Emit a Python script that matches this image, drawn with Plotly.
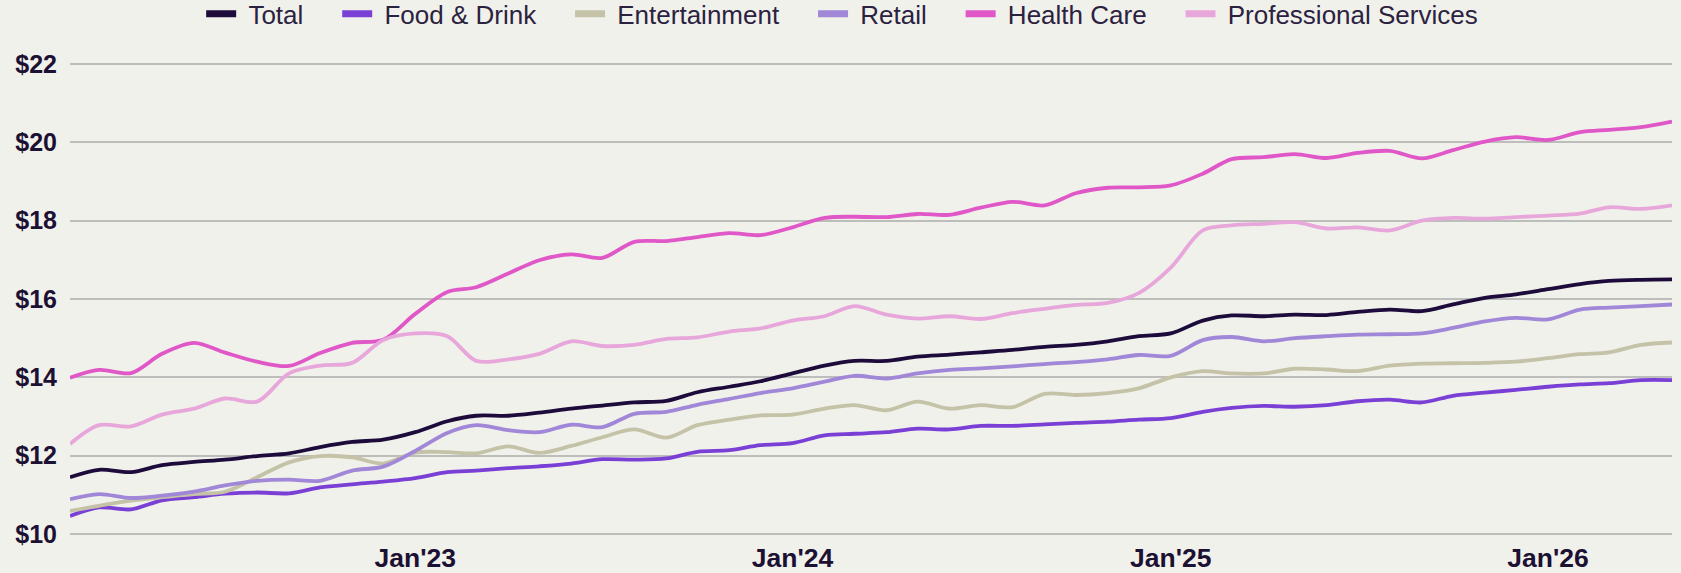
import pandas as pd
import plotly.graph_objects as go

dates = pd.date_range("2022-02-01", periods=52, freq="MS")

total = [11.45, 11.64, 11.58, 11.76, 11.84, 11.90, 11.99, 12.06, 12.22, 12.35,
         12.41, 12.60, 12.88, 13.02, 13.02, 13.10, 13.20, 13.28, 13.36, 13.40,
         13.62, 13.76, 13.90, 14.10, 14.30, 14.42, 14.42, 14.53, 14.58, 14.64,
         14.70, 14.78, 14.83, 14.92, 15.05, 15.12, 15.45, 15.58, 15.56, 15.60,
         15.59, 15.67, 15.73, 15.69, 15.86, 16.03, 16.12, 16.25, 16.38, 16.46,
         16.49, 16.50]

food_drink = [10.46, 10.68, 10.63, 10.86, 10.94, 11.03, 11.06, 11.04, 11.19, 11.27,
              11.34, 11.43, 11.58, 11.62, 11.68, 11.73, 11.80, 11.91, 11.90, 11.93,
              12.10, 12.14, 12.27, 12.32, 12.52, 12.56, 12.60, 12.69, 12.67, 12.76,
              12.76, 12.80, 12.84, 12.87, 12.92, 12.96, 13.12, 13.22, 13.27, 13.25,
              13.29, 13.39, 13.43, 13.36, 13.53, 13.61, 13.68, 13.76, 13.82, 13.85,
              13.93, 13.93]

entertainment = [10.59, 10.72, 10.85, 10.94, 11.02, 11.08, 11.45, 11.83, 11.99, 11.96,
                 11.80, 12.08, 12.09, 12.06, 12.24, 12.07, 12.25, 12.47, 12.67, 12.46,
                 12.78, 12.92, 13.03, 13.05, 13.20, 13.29, 13.16, 13.38, 13.20, 13.29,
                 13.24, 13.58, 13.55, 13.60, 13.72, 14.00, 14.16, 14.10, 14.10, 14.22,
                 14.20, 14.16, 14.30, 14.35, 14.36, 14.37, 14.40, 14.49, 14.59, 14.64,
                 14.83, 14.89]

retail = [10.89, 11.02, 10.92, 10.98, 11.08, 11.24, 11.36, 11.39, 11.36, 11.62,
          11.72, 12.12, 12.58, 12.78, 12.65, 12.60, 12.79, 12.73, 13.07, 13.12,
          13.30, 13.45, 13.60, 13.72, 13.89, 14.04, 13.97, 14.10, 14.19, 14.23,
          14.28, 14.34, 14.39, 14.46, 14.57, 14.55, 14.95, 15.03, 14.92, 15.00,
          15.05, 15.09, 15.10, 15.12, 15.26, 15.43, 15.52, 15.48, 15.73, 15.78,
          15.82, 15.86]

health_care = [13.99, 14.19, 14.11, 14.60, 14.88, 14.63, 14.40, 14.29, 14.62, 14.88,
               14.96, 15.62, 16.18, 16.30, 16.65, 16.99, 17.14, 17.05, 17.46, 17.48,
               17.58, 17.68, 17.63, 17.83, 18.07, 18.10, 18.09, 18.17, 18.15, 18.33,
               18.48, 18.39, 18.70, 18.84, 18.85, 18.90, 19.20, 19.57, 19.62, 19.70,
               19.60, 19.73, 19.78, 19.59, 19.80, 20.02, 20.13, 20.06, 20.26, 20.32,
               20.39, 20.53]

professional_services = [12.30, 12.78, 12.75, 13.05, 13.20, 13.46, 13.38, 14.10, 14.30, 14.37,
                         14.95, 15.12, 15.05, 14.42, 14.46, 14.60, 14.92, 14.80, 14.83, 14.98,
                         15.02, 15.17, 15.25, 15.45, 15.56, 15.82, 15.60, 15.50, 15.56, 15.49,
                         15.64, 15.75, 15.85, 15.90, 16.15, 16.80, 17.75, 17.88, 17.92, 17.96,
                         17.80, 17.83, 17.75, 18.00, 18.07, 18.05, 18.09, 18.13, 18.18, 18.34,
                         18.30, 18.39]

series_names = ["Total", "Food & Drink", "Entertainment", "Retail", "Health Care",
                "Professional Services"]
series_values = [total, food_drink, entertainment, retail, health_care, professional_services]
series_colors = ["#1d0c3b", "#7a40d6", "#c4c2a7", "#a187d7", "#e057c7", "#e8a7db"]

x_tick_dates = ["2023-01-01", "2024-01-01", "2025-01-01", "2026-01-01"]
x_tick_labels = ["Jan'23", "Jan'24", "Jan'25", "Jan'26"]
y_tick_values = [10, 12, 14, 16, 18, 20, 22]
y_tick_labels = ["$10", "$12", "$14", "$16", "$18", "$20", "$22"]

BG = "#f1f1ec"
TXT = "#1c1033"
FONT = "Liberation Sans, Arial, sans-serif"
NB = "\u00a0"

fig = go.Figure()
for name, vals, col in zip(series_names, series_values, series_colors):
    fig.add_trace(go.Scatter(
        x=dates, y=vals, name=name, mode="lines",
        line=dict(color=col, width=3.8, shape="spline", smoothing=0.9),
        showlegend=False, hoverinfo="x+y+name",
    ))
# legend entries (thicker swatches, padded spacing like the original)
n = len(series_names)
for i, (name, col) in enumerate(zip(series_names, series_colors)):
    label = NB + name + (NB * 4 if i < n - 1 else "")
    fig.add_trace(go.Scatter(
        x=[None], y=[None], name=label, mode="lines",
        line=dict(color=col, width=7), showlegend=True, hoverinfo="skip",
    ))

fig.update_layout(
    width=1681, height=573,
    paper_bgcolor=BG, plot_bgcolor=BG,
    margin=dict(l=70, r=9, t=62, b=37, autoexpand=False),
    font=dict(family=FONT, color=TXT),
    legend=dict(
        orientation="h", xref="paper", x=0.482, xanchor="center",
        yref="container", y=0.976, yanchor="middle",
        font=dict(size=26, color="#2b2240", family=FONT),
        bgcolor="rgba(0,0,0,0)", itemwidth=30,
    ),
    xaxis=dict(
        range=["2022-02-01", "2026-05-01"],
        tickvals=x_tick_dates, ticktext=x_tick_labels,
        showgrid=False, zeroline=False, showline=False, ticks="",
        tickfont=dict(size=26.5, weight="bold", color=TXT, family=FONT),
        ticklabelstandoff=3,
    ),
    yaxis=dict(
        range=[9.95, 22.05],
        tickvals=y_tick_values, ticktext=y_tick_labels,
        showgrid=True, gridcolor="#bdbdbb", gridwidth=2,
        zeroline=False, showline=False, ticks="",
        tickfont=dict(size=25, weight="bold", color=TXT, family=FONT),
        ticklabelstandoff=12,
    ),
)

fig.write_html(
    "out.html",
    config={"displayModeBar": False},
    post_script=("document.body.style.margin='0';"
                 "document.body.style.background='" + BG + "';"
                 "document.body.style.overflow='hidden';"),
)
